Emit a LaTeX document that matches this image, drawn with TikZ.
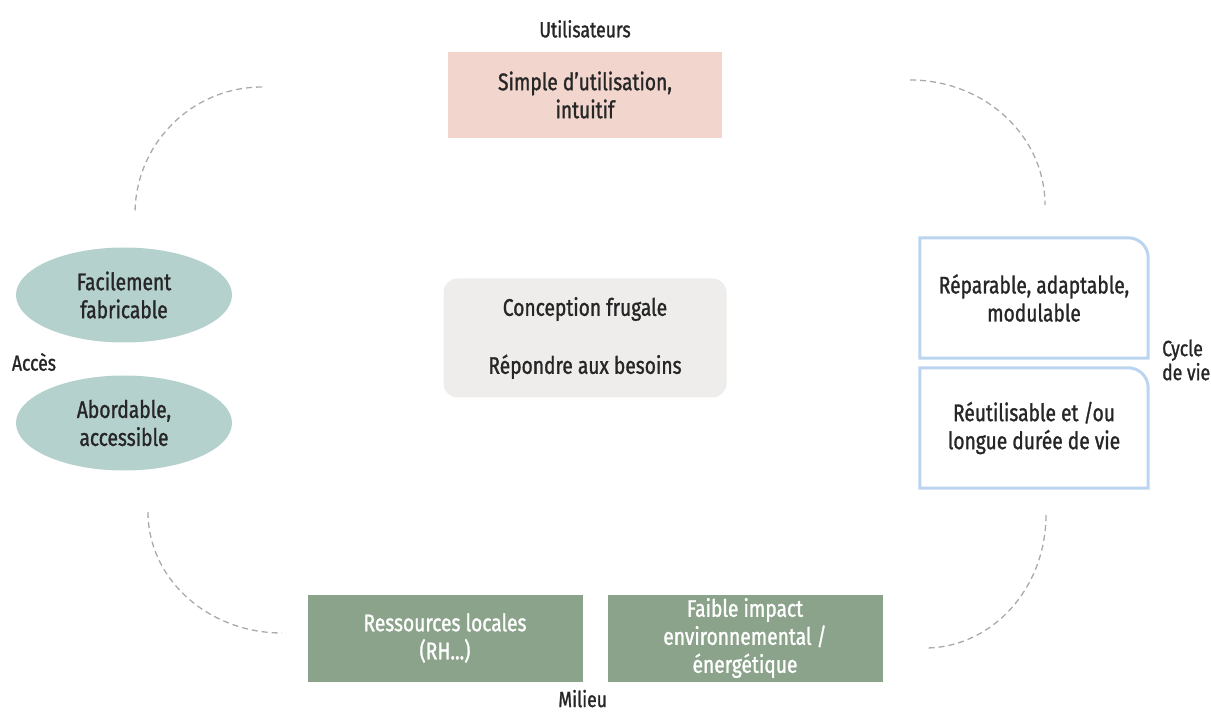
\documentclass[tikz,border=0pt]{standalone}
\usepackage{fontspec}
\setmainfont{Fira Sans}[FakeStretch=0.8, FakeBold=1.2]
\usetikzlibrary{positioning}
\usetikzlibrary{shapes.geometric}
\definecolor{userpink}{HTML}{F2D6CE}
\definecolor{accesteal}{HTML}{B5D1CD}
\definecolor{coregrey}{HTML}{EEEDEB}
\definecolor{cycleblue}{HTML}{BBD5F0}
\definecolor{milieugreen}{HTML}{8CA38B}
\definecolor{arcgrey}{HTML}{AAAAAA}
\newcommand{\maintext}{\fontsize{24}{28}\selectfont}
\newcommand{\labeltext}{\fontsize{22}{24}\selectfont}

\begin{document}
\begin{tikzpicture}[x=1pt, y=1pt,
                    every node/.style={align=center, inner sep=0pt, font=\maintext, text=black!85},
                    group label/.style={font=\labeltext},
                    userbox/.style={fill=userpink, minimum width=274, minimum height=86},
                    accesoval/.style={ellipse, fill=accesteal, minimum width=216, minimum height=95},
                    corebox/.style={fill=coregrey, rounded corners=14, minimum width=283, minimum height=119},
                    cyclebox/.style={minimum width=228, minimum height=120},
                    cycleline/.style={draw=cycleblue, line width=3},
                    milieubox/.style={fill=milieugreen, text=white, minimum width=275, minimum height=87},
                    dasharc/.style={draw=arcgrey, line width=1.3, dash pattern=on 6 off 4}]
    \useasboundingbox (0,0) rectangle (1211,716);

    \node[userbox] (simple) at (585,621) {Simple d’utilisation,\\intuitif};
    \node[group label, above=14 of simple] (users) {Utilisateurs};

    \node[accesoval] (fab) at (124,421) {Facilement\\fabricable};
    \node[accesoval] (abord) at (124,293) {Abordable,\\accessible};
    \node[group label] (acces) at (34,354) {Accès};

    \node[corebox] (core) at (585,378) {Conception frugale\\[30pt]Répondre aux besoins};

    \node[cyclebox] (repar) at (1034,418) {Réparable, adaptable,\\modulable};
    \node[cyclebox] (reuse) at (1034,288) {Réutilisable et /ou\\longue durée de vie};
    \node[group label, align=left, anchor=west] (cycle) at (1162,356) {Cycle\\de vie};
    \foreach \b in {repar, reuse}
        \draw[cycleline] (\b.south west) -- (\b.north west) -- ([xshift=-20]\b.north east)
            arc[start angle=90, end angle=0, radius=20] -- (\b.south east) -- cycle;

    \node[milieubox] (local) at (445,78) {Ressources locales\\(RH...)};
    \node[milieubox] (impact) at (745,78) {Faible impact\\environnemental /\\énergétique};
    \node[group label, below=8 of local.south east] (milieu) {Milieu};

    % dashed loop around the centre
    \coordinate (tl) at (262,629);
    \coordinate (tr) at (910,636);
    \coordinate (bl) at (148,204);
    \coordinate (br) at (1046,201);
    \draw[dasharc] (tl) arc[start angle=90, end angle=180, radius=127];
    \draw[dasharc] (tr) arc[start angle=90, end angle=0, x radius=135, y radius=125];
    \draw[dasharc] (bl) arc[start angle=180, end angle=270, x radius=134, y radius=121];
    \draw[dasharc] (br) arc[start angle=0, end angle=-90, x radius=121, y radius=133];
\end{tikzpicture}
\end{document}
